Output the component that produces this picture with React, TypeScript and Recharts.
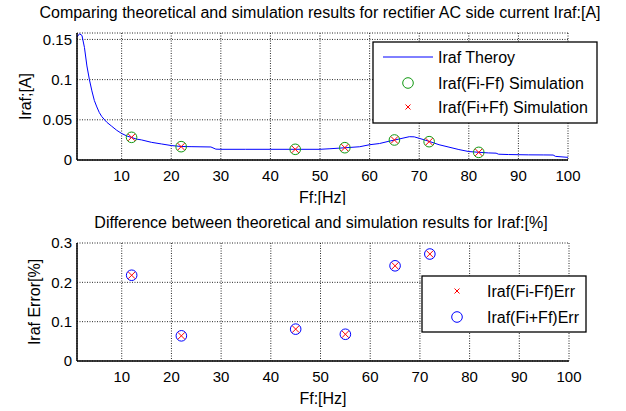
import { ComposedChart, Line, Scatter, XAxis, YAxis, CartesianGrid } from 'recharts'

// theoretical Iraf curve
const freqTheory = [1, 1.5, 2, 2.5, 3, 3.5, 4, 4.5, 5, 5.5, 6, 7, 8, 9, 10, 11, 12, 13, 14, 16, 18, 20, 22, 24, 26, 28, 29, 30, 35, 40, 45, 50, 52, 55, 58, 60, 62, 64, 65, 66, 68, 69, 70, 72, 74, 76, 78, 80, 82, 84, 85.5, 86, 88, 90, 92, 95, 97, 97.5, 100]
const irafTheory = [0.153, 0.157, 0.155, 0.14, 0.117, 0.1, 0.086, 0.074, 0.066, 0.059, 0.054, 0.047, 0.042, 0.037, 0.033, 0.03, 0.028, 0.026, 0.025, 0.022, 0.02, 0.018, 0.0168, 0.0166, 0.0164, 0.0162, 0.0135, 0.0133, 0.0133, 0.0133, 0.0133, 0.0133, 0.014, 0.0152, 0.0165, 0.019, 0.0205, 0.0235, 0.0248, 0.0262, 0.029, 0.0288, 0.027, 0.0232, 0.019, 0.016, 0.013, 0.0105, 0.0096, 0.0088, 0.0085, 0.0072, 0.0068, 0.0066, 0.0064, 0.0063, 0.0062, 0.0045, 0.0033]

// simulation points
const simFreq = [12, 22, 45, 55, 65, 72, 82]
const irafMinusSim = [0.0282, 0.0166, 0.0133, 0.0153, 0.0249, 0.0228, 0.0095]
const irafPlusSim = [0.0282, 0.0166, 0.0133, 0.0153, 0.0249, 0.0228, 0.0095]

// error between theory and simulation [%]
const errFreq = [12, 22, 45, 55, 65, 72]
const errMinus = [0.218, 0.064, 0.081, 0.068, 0.242, 0.272]
const errPlus = [0.218, 0.064, 0.081, 0.068, 0.242, 0.272]

const xTicks = [10, 20, 30, 40, 50, 60, 70, 80, 90, 100]
const topYTicks = [0, 0.05, 0.1, 0.15]
const bottomYTicks = [0, 0.1, 0.2, 0.3]

const theoryData = freqTheory.map((f, i) => ({ f, v: irafTheory[i] }))
const minusData = simFreq.map((f, i) => ({ f, v: irafMinusSim[i] }))
const plusData = simFreq.map((f, i) => ({ f, v: irafPlusSim[i] }))
const errMinusData = errFreq.map((f, i) => ({ f, v: errMinus[i] }))
const errPlusData = errFreq.map((f, i) => ({ f, v: errPlus[i] }))

const FONT = '"Liberation Sans", Arial, sans-serif'
const GREEN = '#119911'
const RED = '#ff0000'
const BLUE = '#0000ff'

const ring = (color: string) => (p: any) => (
  <circle cx={p.cx} cy={p.cy} r={5.3} fill="none" stroke={color} strokeWidth={1} />
)

const cross = (color: string, s: number) => (p: any) => (
  <path
    d={`M${p.cx - s},${p.cy - s}L${p.cx + s},${p.cy + s}M${p.cx - s},${p.cy + s}L${p.cx + s},${p.cy - s}`}
    stroke={color}
    strokeWidth={1}
    fill="none"
  />
)

const tickStyle = { fontSize: 15, fill: '#000', fontFamily: FONT }
const gridProps = { stroke: '#000', strokeDasharray: '1 1.5', strokeOpacity: 0.85 }
const axisLine = { stroke: '#000', strokeWidth: 1.5 }

function Frame() {
  return (
    <>
      <XAxis xAxisId="top" orientation="top" type="number" domain={[0, 1]} tick={false} tickLine={false} height={0} axisLine={axisLine} />
      <YAxis yAxisId="right" orientation="right" type="number" domain={[0, 1]} tick={false} tickLine={false} width={0} axisLine={axisLine} />
    </>
  )
}

export default function App() {
  return (
    <div style={{ position: 'absolute', left: 0, top: 0, width: 626, height: 411, background: '#fff', fontFamily: FONT }}>
      <ComposedChart width={626} height={205} margin={{ top: 33, right: 58, bottom: 0, left: 0 }}>
        <CartesianGrid {...gridProps} />
        <XAxis
          dataKey="f"
          type="number"
          domain={[1, 100]}
          ticks={xTicks}
          allowDataOverflow
          height={45}
          tickLine={false}
          tickSize={5}
          tickMargin={5}
          tick={tickStyle}
          axisLine={axisLine}
          label={{ value: 'Ff:[Hz]', position: 'insideBottom', offset: 2, fill: '#000', fontSize: 16 }}
        />
        <YAxis
          dataKey="v"
          type="number"
          domain={[0, 0.158]}
          ticks={topYTicks}
          allowDataOverflow
          width={77}
          tickLine={false}
          tickSize={5}
          tickMargin={0}
          tick={tickStyle}
          tickFormatter={(v: number) => String(v)}
          axisLine={axisLine}
          label={{ value: 'Iraf;[A]', angle: -90, position: 'insideLeft', offset: 25, fill: '#000', fontSize: 16, style: { textAnchor: 'middle' } }}
        />
        {Frame()}
        <Line data={theoryData} dataKey="v" type="linear" stroke={BLUE} strokeWidth={1} dot={false} isAnimationActive={false} name="Iraf Theroy" />
        <Scatter data={minusData} dataKey="v" shape={ring(GREEN)} isAnimationActive={false} name="Iraf(Fi-Ff) Simulation" />
        <Scatter data={plusData} dataKey="v" shape={cross(RED, 3.5)} isAnimationActive={false} name="Iraf(Fi+Ff) Simulation" />
        <text x={320} y={18} textAnchor="middle" fontSize={16} fill="#000">
          Comparing theoretical and simulation results for rectifier AC side current Iraf:[A]
        </text>
        <g>
          <rect x={373} y={42} width={224} height={81} fill="#fff" stroke="#000" strokeWidth={1.3} />
          <line x1={383} y1={57} x2={433} y2={57} stroke={BLUE} strokeWidth={1} />
          <text x={438} y={62.5} fontSize={16} fill="#000">Iraf Theroy</text>
          {ring(GREEN)({ cx: 408, cy: 83 })}
          <text x={438} y={88.5} fontSize={16} fill="#000">Iraf(Fi-Ff) Simulation</text>
          {cross(RED, 2.5)({ cx: 408, cy: 107 })}
          <text x={438} y={112.5} fontSize={16} fill="#000">Iraf(Fi+Ff) Simulation</text>
        </g>
      </ComposedChart>

      <ComposedChart width={626} height={206} margin={{ top: 38, right: 57, bottom: 0, left: 0 }}>
        <CartesianGrid {...gridProps} />
        <XAxis
          dataKey="f"
          type="number"
          domain={[1, 100]}
          ticks={xTicks}
          allowDataOverflow
          height={50}
          tickLine={false}
          tickSize={5}
          tickMargin={5}
          tick={tickStyle}
          axisLine={axisLine}
          label={{ value: 'Ff:[Hz]', position: 'insideBottom', offset: 7, fill: '#000', fontSize: 16 }}
        />
        <YAxis
          dataKey="v"
          type="number"
          domain={[0, 0.3]}
          ticks={bottomYTicks}
          allowDataOverflow
          width={77}
          tickLine={false}
          tickSize={5}
          tickMargin={0}
          tick={tickStyle}
          tickFormatter={(v: number) => String(v)}
          axisLine={axisLine}
          label={{ value: 'Iraf Error[%]', angle: -90, position: 'insideLeft', offset: 34, fill: '#000', fontSize: 16, style: { textAnchor: 'middle' } }}
        />
        {Frame()}
        <Scatter data={errMinusData} dataKey="v" shape={cross(RED, 3.5)} isAnimationActive={false} name="Iraf(Fi-Ff)Err" />
        <Scatter data={errPlusData} dataKey="v" shape={ring(BLUE)} isAnimationActive={false} name="Iraf(Fi+Ff)Err" />
        <text x={321} y={23} textAnchor="middle" fontSize={16} fill="#000">
          Difference between theoretical and simulation results for Iraf:[%]
        </text>
        <g>
          <rect x={422} y={71} width={164} height={56} fill="#fff" stroke="#000" strokeWidth={1.3} />
          {cross(RED, 2.5)({ cx: 457, cy: 86 })}
          <text x={487} y={91.5} fontSize={16} fill="#000">Iraf(Fi-Ff)Err</text>
          {ring(BLUE)({ cx: 457, cy: 112 })}
          <text x={487} y={117.5} fontSize={16} fill="#000">Iraf(Fi+Ff)Err</text>
        </g>
      </ComposedChart>
    </div>
  )
}
